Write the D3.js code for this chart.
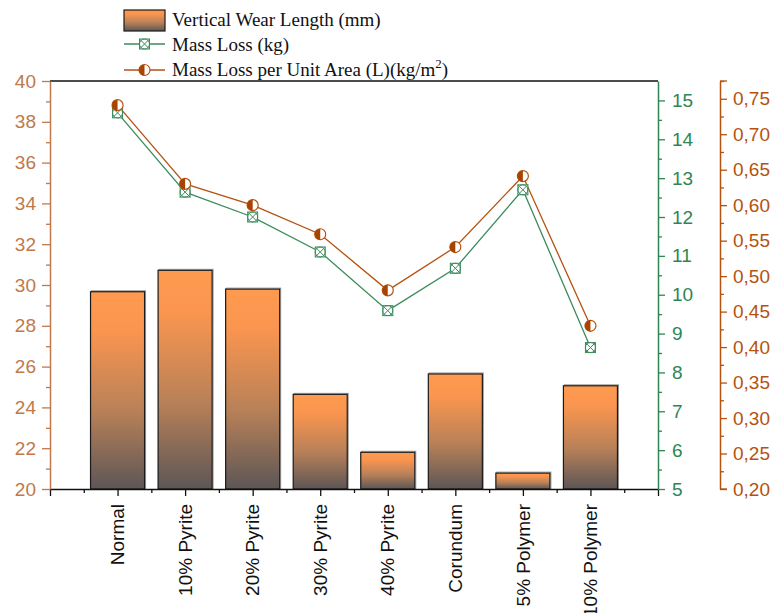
<!DOCTYPE html>
<html>
<head>
<meta charset="utf-8">
<script src="https://cdn.jsdelivr.net/npm/d3@7"></script>
<style>
  body { margin: 0; background: #fff; }
  svg { display: block; }
</style>
</head>
<body>
<svg id="chart" width="771" height="613"></svg>
<script>
// ---- data ----
const categories = ["Normal", "10% Pyrite", "20% Pyrite", "30% Pyrite", "40% Pyrite", "Corundum", "5% Polymer", "10% Polymer"];
const wearLength = [29.67, 30.72, 29.80, 24.64, 21.80, 25.64, 20.78, 25.06];        // mm
const massLoss = [14.68, 12.64, 12.00, 11.10, 9.59, 10.68, 12.70, 8.64];           // kg
const massLossPerArea = [0.741, 0.630, 0.600, 0.559, 0.480, 0.541, 0.641, 0.430];  // kg/m2
const wearTicks = [20, 22, 24, 26, 28, 30, 32, 34, 36, 38, 40];
const massTicks = [5, 6, 7, 8, 9, 10, 11, 12, 13, 14, 15];
const areaTicks = [0.20, 0.25, 0.30, 0.35, 0.40, 0.45, 0.50, 0.55, 0.60, 0.65, 0.70, 0.75];
const legendLabels = ["Vertical Wear Length (mm)", "Mass Loss (kg)", "Mass Loss per Unit Area (L)(kg/m"];

// ---- layout ----
const L = 50, R = 658, T = 81, B = 489, R2 = 720;
const sans = "'Liberation Sans', Arial, sans-serif";
const serif = "'Liberation Serif', 'Times New Roman', serif";
const C = {
  wearAxis: "#c0794a",
  green: "#2f8553",
  greenLine: "#3a8c5c",
  orange: "#b5520f",
  orangeFill: "#a84300"
};

const svg = d3.select("#chart");

const x = d3.scaleLinear().domain([0, 9]).range([L, R]);
const yWear = d3.scaleLinear().domain([20, 40]).range([B, T]);
const yMass = d3.scaleLinear().domain([5, 15.5]).range([B, T]);
const yArea = d3.scaleLinear().domain([0.2, 0.775]).range([B, T]);
const step = x(1) - x(0);
const barW = step * 0.8;

// bar gradient: orange at the top fading to dark grey-brown at the base
const defs = svg.append("defs");
const grad = defs.append("linearGradient").attr("id", "barGrad")
  .attr("x1", 0).attr("y1", 0).attr("x2", 0).attr("y2", 1);
grad.append("stop").attr("offset", 0).attr("stop-color", "#ff9a50");
grad.append("stop").attr("offset", 0.2).attr("stop-color", "#f9954f");
grad.append("stop").attr("offset", 0.6).attr("stop-color", "#b98158");
grad.append("stop").attr("offset", 1).attr("stop-color", "#5d5656");

// ---- bars ----
const bars = svg.append("g");
bars.selectAll("rect.shadow").data(wearLength).join("rect")
  .attr("class", "shadow")
  .attr("x", (d, i) => x(i + 1) - barW / 2 + 1)
  .attr("y", d => yWear(d) - 1)
  .attr("width", barW)
  .attr("height", d => B - yWear(d) + 1)
  .attr("fill", "none").attr("stroke", "#9a9a9a").attr("stroke-width", 1);
bars.selectAll("rect.bar").data(wearLength).join("rect")
  .attr("class", "bar")
  .attr("x", (d, i) => x(i + 1) - barW / 2)
  .attr("y", d => yWear(d))
  .attr("width", barW)
  .attr("height", d => B - yWear(d))
  .attr("fill", "url(#barGrad)")
  .attr("stroke", "#1a1a1a").attr("stroke-width", 1.2);

// ---- frame: top border ----
svg.append("line").attr("x1", L).attr("x2", R).attr("y1", T).attr("y2", T)
  .attr("stroke", "#111").attr("stroke-width", 1.5);

// ---- axes ----
function styleAxis(g, color, fontSize) {
  g.select(".domain").attr("stroke", color).attr("stroke-width", 1.5);
  g.selectAll(".tick line").attr("stroke", color).attr("stroke-width", 1.3);
  g.selectAll(".tick text").attr("fill", color)
    .style("font-family", sans).style("font-size", fontSize + "px");
}

// bottom category axis: major ticks at integers, minor at halves
const xMajor = svg.append("g").attr("transform", `translate(0,${B})`)
  .call(d3.axisBottom(x).tickValues(d3.range(0, 10)).tickSize(7).tickFormat("").tickSizeOuter(0));
styleAxis(xMajor, "#111", 19);
const xMinor = svg.append("g").attr("transform", `translate(0,${B})`)
  .call(d3.axisBottom(x).tickValues(d3.range(0.5, 9, 1)).tickSize(4).tickFormat("").tickSizeOuter(0));
styleAxis(xMinor, "#111", 19);
xMinor.select(".domain").remove();

svg.append("g").selectAll("text").data(categories).join("text")
  .attr("transform", (d, i) => `translate(${x(i + 1)},${B + 15}) rotate(-90)`)
  .attr("text-anchor", "end")
  .attr("dy", "0.35em")
  .style("font-family", sans).style("font-size", "19px")
  .attr("fill", "#111")
  .text(d => d);

// left axis: vertical wear length
const yL = svg.append("g").attr("transform", `translate(${L},0)`)
  .call(d3.axisLeft(yWear).tickValues(wearTicks).tickSize(8).tickPadding(6).tickSizeOuter(0));
styleAxis(yL, C.wearAxis, 19);
const yLm = svg.append("g").attr("transform", `translate(${L},0)`)
  .call(d3.axisLeft(yWear).tickValues(d3.range(21, 40, 2)).tickSize(4).tickFormat("").tickSizeOuter(0));
styleAxis(yLm, C.wearAxis, 19);
yLm.select(".domain").remove();

// first right axis: mass loss
const yM = svg.append("g").attr("transform", `translate(${R},0)`)
  .call(d3.axisRight(yMass).tickValues(massTicks).tickSize(7).tickPadding(7).tickSizeOuter(0));
styleAxis(yM, C.green, 19);
const yMm = svg.append("g").attr("transform", `translate(${R},0)`)
  .call(d3.axisRight(yMass).tickValues(d3.range(5.5, 15.5, 1)).tickSize(4).tickFormat("").tickSizeOuter(0));
styleAxis(yMm, C.green, 19);
yMm.select(".domain").remove();

// second right axis: mass loss per unit area (comma decimal marks)
const commaFmt = v => d3.format(".2f")(v).replace(".", ",");
const yA = svg.append("g").attr("transform", `translate(${R2},0)`)
  .call(d3.axisRight(yArea).tickValues(areaTicks).tickSize(7).tickPadding(6).tickFormat(commaFmt).tickSizeOuter(0));
styleAxis(yA, C.orange, 19);
const yAm = svg.append("g").attr("transform", `translate(${R2},0)`)
  .call(d3.axisRight(yArea).tickValues(areaTicks.map(v => v + 0.025)).tickSize(4).tickFormat("").tickSizeOuter(0));
styleAxis(yAm, C.orange, 19);
yAm.select(".domain").remove();
// closing cap at the top of the second right axis
svg.append("line").attr("x1", R2).attr("x2", R2 + 7).attr("y1", T).attr("y2", T)
  .attr("stroke", C.orange).attr("stroke-width", 1.3);
svg.append("line").attr("x1", R2).attr("x2", R2 + 7).attr("y1", B).attr("y2", B)
  .attr("stroke", C.orange).attr("stroke-width", 1.3);

// ---- markers ----
function crossedSquare(g, color) {
  const s = 5;
  g.append("rect").attr("x", -s).attr("y", -s).attr("width", 2 * s).attr("height", 2 * s)
    .attr("fill", "#fff").attr("stroke", color).attr("stroke-width", 1);
  g.append("circle").attr("r", s).attr("fill", "none").attr("stroke", color).attr("stroke-width", 1);
  g.append("path").attr("d", `M${-s},${-s}L${s},${s}M${s},${-s}L${-s},${s}`)
    .attr("stroke", color).attr("stroke-width", 1);
}
function halfCircle(g, stroke, fill) {
  const r = 5.5;
  g.append("circle").attr("r", r).attr("fill", "#fff").attr("stroke", stroke).attr("stroke-width", 1.2);
  g.append("path").attr("d", `M0,${-r}A${r},${r} 0 0 0 0,${r}Z`).attr("fill", fill);
}

// ---- lines ----
const massLine = d3.line().x((d, i) => x(i + 1)).y(d => yMass(d));
svg.append("path").datum(massLoss).attr("d", massLine)
  .attr("fill", "none").attr("stroke", C.greenLine).attr("stroke-width", 1.3);
const areaLine = d3.line().x((d, i) => x(i + 1)).y(d => yArea(d));
svg.append("path").datum(massLossPerArea).attr("d", areaLine)
  .attr("fill", "none").attr("stroke", C.orange).attr("stroke-width", 1.3);

svg.append("g").selectAll("g").data(massLoss).join("g")
  .attr("transform", (d, i) => `translate(${x(i + 1)},${yMass(d)})`)
  .each(function () { crossedSquare(d3.select(this), C.greenLine); });
svg.append("g").selectAll("g").data(massLossPerArea).join("g")
  .attr("transform", (d, i) => `translate(${x(i + 1)},${yArea(d)})`)
  .each(function () { halfCircle(d3.select(this), C.orange, C.orangeFill); });

// ---- legend ----
const lg = svg.append("g");
const lx0 = 124, lx1 = 165, tx = 172;
lg.append("rect").attr("x", lx0).attr("y", 10).attr("width", lx1 - lx0).attr("height", 21)
  .attr("fill", "url(#barGrad)").attr("stroke", "#1a1a1a").attr("stroke-width", 1.2);
lg.append("line").attr("x1", lx0).attr("x2", lx1).attr("y1", 44).attr("y2", 44)
  .attr("stroke", C.greenLine).attr("stroke-width", 1.3);
crossedSquare(lg.append("g").attr("transform", `translate(${(lx0 + lx1) / 2},44)`), C.greenLine);
lg.append("line").attr("x1", lx0).attr("x2", lx1).attr("y1", 70).attr("y2", 70)
  .attr("stroke", C.orange).attr("stroke-width", 1.3);
halfCircle(lg.append("g").attr("transform", `translate(${(lx0 + lx1) / 2},70)`), C.orange, C.orangeFill);

const legendY = [26, 51, 76];
legendLabels.forEach((t, i) => {
  const txt = lg.append("text").attr("x", tx).attr("y", legendY[i])
    .style("font-family", serif).style("font-size", "19px").attr("fill", "#111");
  txt.append("tspan").text(t);
  if (i === 2) {
    txt.append("tspan").attr("dy", -8).style("font-size", "13px").text("2");
    txt.append("tspan").attr("dy", 8).text(")");
  }
});
</script>
</body>
</html>
